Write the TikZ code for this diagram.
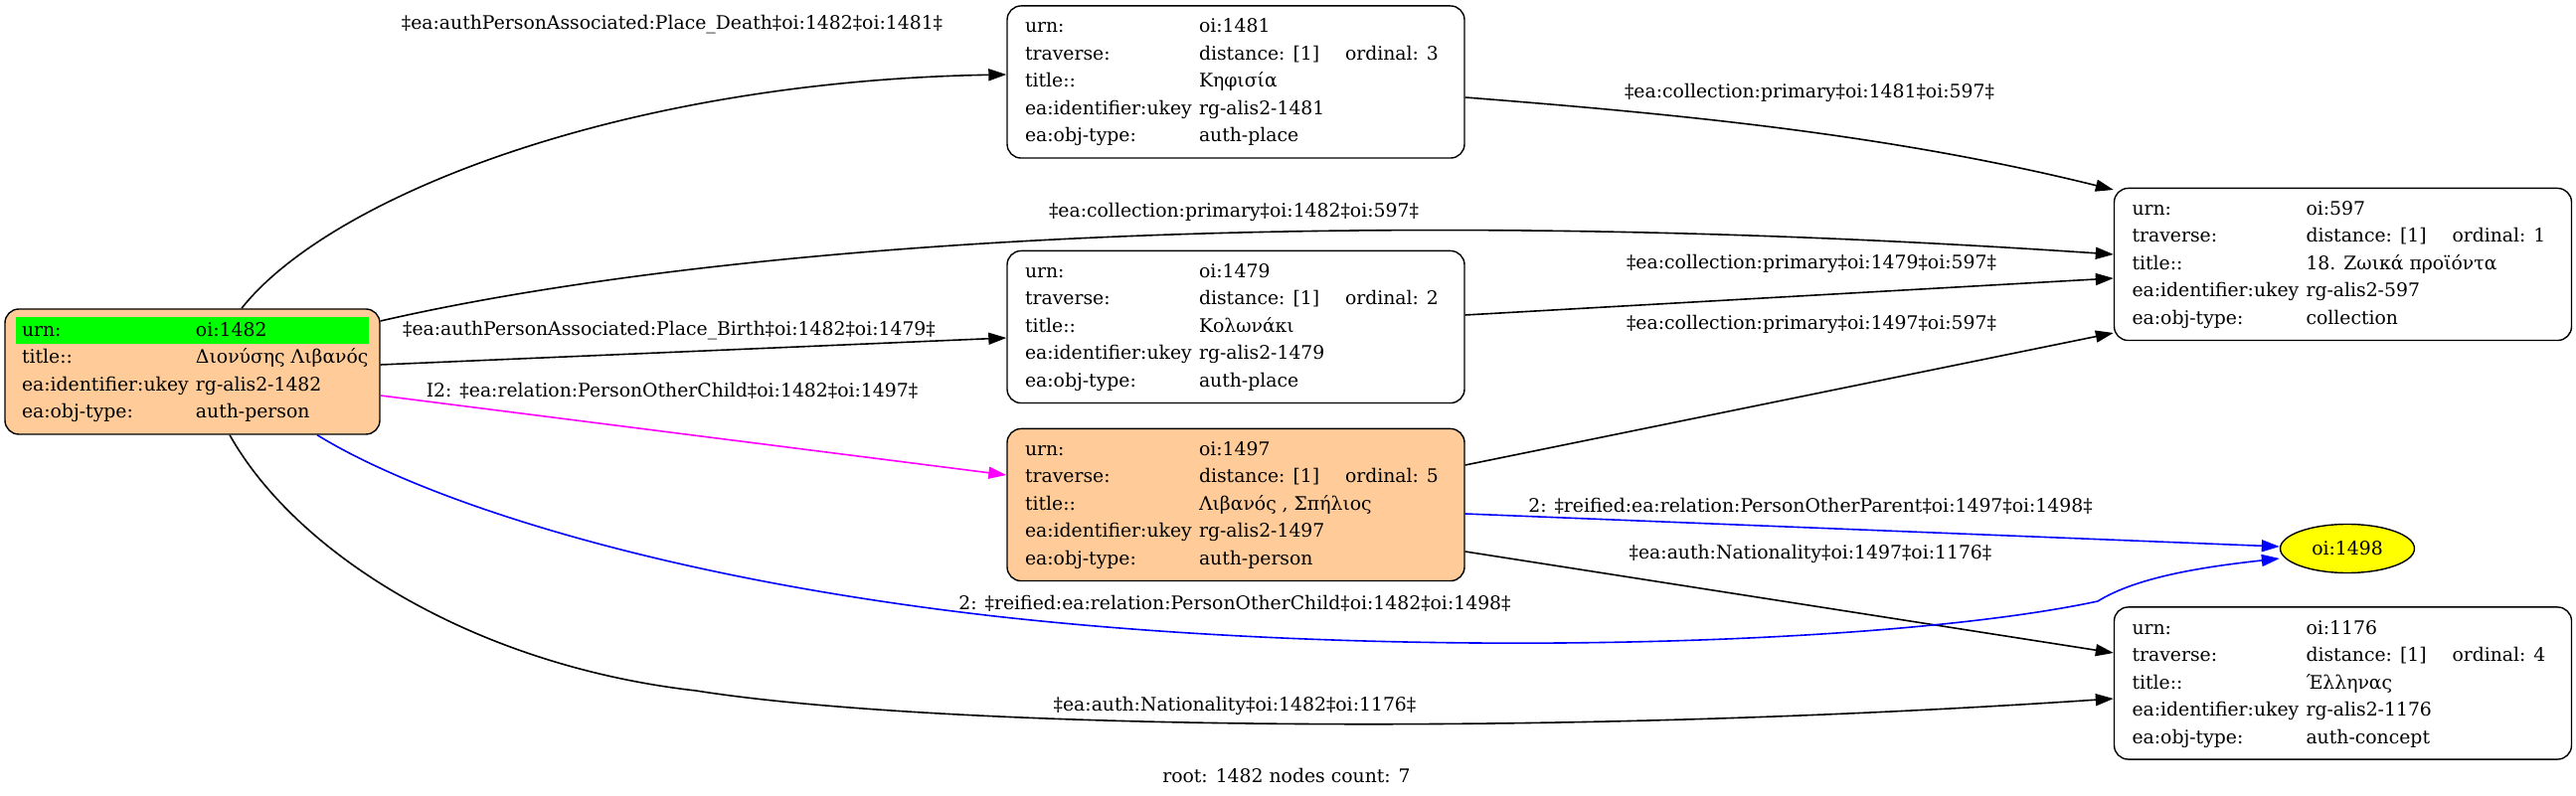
\PassOptionsToPackage{table}{xcolor}
\documentclass[tikz,border=0pt]{standalone}
\usepackage{fontspec}
\setmainfont{DejaVu Serif}
\usepackage{array}
\usetikzlibrary{arrows.meta, calc, shapes.geometric}

\definecolor{peach}{HTML}{FFCC99}
\definecolor{lime}{HTML}{00FF00}
\definecolor{mag}{HTML}{FF00FF}
\definecolor{pureblue}{HTML}{0000FF}
\definecolor{pureyellow}{HTML}{FFFF00}

% one record: urn, ordinal, title, ukey, obj-type
\newcommand{\oirec}[5]{\begin{tabular}{@{}w{l}{87.5pt}@{}w{l}{73.5pt}@{}w{l}{51pt}@{}}
urn: & #1 & \\
traverse: & distance: [1] & ordinal: #2\\
title:: & #3 & \\
ea:identifier:ukey & #4 & \\
ea:obj-type: & #5 &
\end{tabular}}

\begin{document}
\begin{tikzpicture}[x=0.5pt, y=-0.5pt,
	recbox/.style={draw, line width=0.7pt, rounded corners=7pt, inner xsep=9pt, inner ysep=3.9pt,
		font=\fontsize{9.4}{13.75}\selectfont},
	rel/.style={line width=0.8pt, -{Triangle[length=9pt, width=6pt]}},
	lbl/.style={inner sep=0pt, font=\fontsize{9.4}{12}\selectfont}]
\useasboundingbox (0,0) rectangle (2591,801);

% records
\node[recbox, fill=peach, inner xsep=5.5pt, inner ysep=4pt] (n1482) at (193.5,374) {\setlength{\tabcolsep}{3pt}\begin{tabular}{w{l}{81.5pt}w{l}{84pt}}
\cellcolor{lime}urn: & \cellcolor{lime}oi:1482\\
title:: & Διονύσης Λιβανός\\
ea:identifier:ukey & rg-alis2-1482\\
ea:obj-type: & auth-person
\end{tabular}};
\node[recbox] (n1481) at (1243,82.5) {\oirec{oi:1481}{3}{Κηφισία}{rg-alis2-1481}{auth-place}};
\node[recbox] (n1479) at (1243,329) {\oirec{oi:1479}{2}{Κολωνάκι}{rg-alis2-1479}{auth-place}};
\node[recbox, fill=peach] (n1497) at (1243,508) {\oirec{oi:1497}{5}{Λιβανός , Σπήλιος}{rg-alis2-1497}{auth-person}};
\node[recbox] (n597) at (2356.5,266) {\oirec{oi:597}{1}{18. Ζωικά προϊόντα}{rg-alis2-597}{collection}};
\node[recbox] (n1176) at (2356.5,687.5) {\oirec{oi:1176}{4}{Έλληνας}{rg-alis2-1176}{auth-concept}};
\node[draw, line width=0.7pt, fill=pureyellow, ellipse, minimum width=67.5pt, minimum height=24.5pt, inner sep=0pt,
	font=\fontsize{9.4}{12}\selectfont] (n1498) at (2361,552) {oi:1498};

% links
\draw[rel] ($(n1482.north)+(49.5,0)$) .. controls (330,200) and (620,82) .. ($(n1481.west)+(0,-7.5)$);
\draw[rel] ($(n1482.east)+(0,-51)$) .. controls (700,250) and (1300,200) .. ($(n597.west)+(0,-10)$);
\draw[rel] ($(n1482.east)+(0,-7)$) -- ($(n1479.west)+(0,11)$);
\draw[rel, mag] ($(n1482.east)+(0,24)$) -- ($(n1497.west)+(0,-30)$);
\draw[rel] ($(n1481.east)+(0,15.5)$) .. controls (1690,115) and (1900,135) .. ($(n597.west)+(0,-75)$);
\draw[rel] ($(n1479.east)+(0,-12)$) -- ($(n597.west)+(0,14)$);
\draw[rel] ($(n1497.east)+(0,-40)$) -- ($(n597.west)+(0,69)$);
\draw[rel, pureblue] ($(n1497.east)+(0,9)$) -- ($(n1498.west)+(0,-2)$);
\draw[rel] ($(n1497.east)+(0,47)$) -- ($(n1176.west)+(0,-30.5)$);
\draw[rel] ($(n1482.south)+(37.5,0)$) .. controls (300,560) and (480,670) .. (700,695)
	.. controls (920,730) and (1500,745) .. ($(n1176.west)+(0,15.5)$);
\draw[rel, pureblue] ($(n1482.south)+(125.5,0)$) .. controls (420,500) and (650,580) .. (1000,620)
	.. controls (1400,665) and (1900,650) .. (2110,605)
	.. controls (2150,580) and (2220,570) .. ($(n1498.west)+(0,10)$);

% link labels
\node[lbl] (l1) at (676,25) {‡ea:authPersonAssociated:Place\_Death‡oi:1482‡oi:1481‡};
\node[lbl] (l2) at (1820,93) {‡ea:collection:primary‡oi:1481‡oi:597‡};
\node[lbl] (l3) at (1241,213) {‡ea:collection:primary‡oi:1482‡oi:597‡};
\node[lbl] (l4) at (673,333) {‡ea:authPersonAssociated:Place\_Birth‡oi:1482‡oi:1479‡};
\node[lbl] (l5) at (1822,265) {‡ea:collection:primary‡oi:1479‡oi:597‡};
\node[lbl] (l6) at (676,393) {I2: ‡ea:relation:PersonOtherChild‡oi:1482‡oi:1497‡};
\node[lbl] (l7) at (1822,326) {‡ea:collection:primary‡oi:1497‡oi:597‡};
\node[lbl] (l8) at (1821,509) {2: ‡reified:ea:relation:PersonOtherParent‡oi:1497‡oi:1498‡};
\node[lbl] (l9) at (1821,557) {‡ea:auth:Nationality‡oi:1497‡oi:1176‡};
\node[lbl] (l10) at (1242,607) {2: ‡reified:ea:relation:PersonOtherChild‡oi:1482‡oi:1498‡};
\node[lbl] (l11) at (1242,710) {‡ea:auth:Nationality‡oi:1482‡oi:1176‡};
\node[lbl] (foot) at (1294,780) {root: 1482 nodes count: 7};
\end{tikzpicture}
\end{document}
